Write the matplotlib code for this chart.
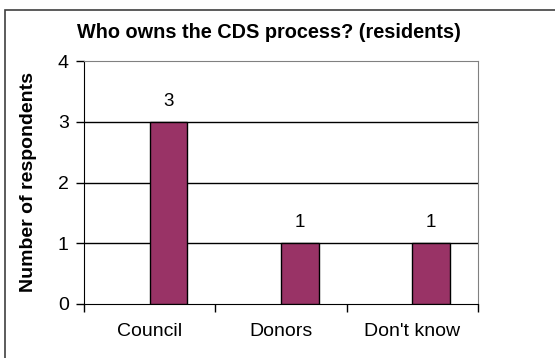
import matplotlib
matplotlib.use("Agg")
import matplotlib.pyplot as plt
from matplotlib.patches import Rectangle
import numpy as np

plt.rcParams['font.family'] = ['Liberation Sans', 'DejaVu Sans']

categories = ["Council", "Donors", "Don't know"]
counts = [3, 1, 1]
y_ticks = [0, 1, 2, 3, 4]
title = "Who owns the CDS process? (residents)"
y_label = "Number of respondents"

W, H = 555, 358
fig = plt.figure(figsize=(W / 100, H / 100), dpi=100)
fig.patch.set_facecolor("white")

# outer chart frame
fig.add_artist(Rectangle((5 / W, -0.1), 1.2, 1 - 10 / H + 0.1,
                         transform=fig.transFigure, fill=False,
                         edgecolor="#404040", linewidth=1.2, clip_on=False))

ax = fig.add_axes([84 / W, 54 / H, (478 - 84) / W, (304 - 61) / H])

x = np.arange(len(categories))
bar_w = 1 / 3.5
ax.bar(x + bar_w / 2, counts, width=bar_w, color="#993366",
       edgecolor="black", linewidth=1.0, zorder=3)

for xi, v in zip(x, counts):
    ax.text(xi + bar_w / 2, v + 0.2, str(v), ha="center", va="bottom",
            fontsize=13.5)

ax.set_xlim(-0.5, len(categories) - 0.5)
ax.set_ylim(0, 4)
ax.set_yticks(y_ticks)
ax.set_yticklabels([str(t) for t in y_ticks], fontsize=14)
ax.set_xticks(x)
ax.set_xticklabels(categories, fontsize=14)
ax.tick_params(axis="x", length=0, pad=14)
ax.set_xticks(np.arange(len(categories) + 1) - 0.5, minor=True)
ax.tick_params(axis="x", which="minor", length=6, width=1, direction="out")
ax.tick_params(axis="y", length=6, width=1, direction="out", pad=5)

for t in [1, 2, 3]:
    ax.axhline(t, color="black", linewidth=1.0, zorder=1)

ax.spines["left"].set_color("black")
ax.spines["bottom"].set_color("black")
ax.spines["top"].set_color("#808080")
ax.spines["right"].set_color("#808080")

ax.set_ylabel(y_label, fontsize=14, fontweight="bold")
ax.yaxis.set_label_coords(-(84 - 37) / (478 - 84), 0.5)
fig.text(269 / W, 1 - 33 / H, title, ha="center", va="center",
         fontsize=14.3, fontweight="bold")

fig.savefig("out.png", dpi=100)
